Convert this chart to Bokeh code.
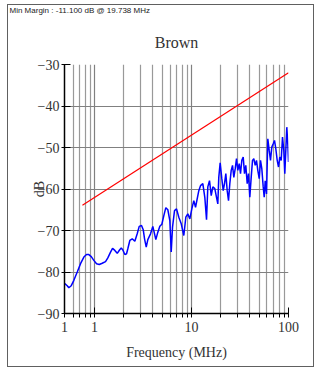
from bokeh.plotting import figure
from bokeh.models import FixedTicker, Range1d, Title
from bokeh.embed import file_html
from bokeh.resources import INLINE

# measured trace (MHz, dB)
freq = [0.494, 0.523, 0.543, 0.575, 0.612, 0.663, 0.717, 0.776, 0.827, 0.873,
        0.925, 0.983, 1.049, 1.118, 1.200, 1.298, 1.371, 1.462, 1.533, 1.619,
        1.714, 1.810, 1.885, 1.958, 2.053, 2.138, 2.204, 2.311, 2.447, 2.603,
        2.754, 2.889, 3.051, 3.177, 3.278, 3.412, 3.544, 3.779, 3.990, 4.155,
        4.285, 4.494, 4.713, 4.942, 5.182, 5.433, 5.699, 5.975, 6.176, 6.368,
        6.678, 7.005, 7.396, 7.831, 8.328, 8.735, 9.160, 9.605, 10.07, 10.56,
        11.00, 11.89, 12.38, 13.08, 13.71, 14.28, 14.72, 15.33, 15.97, 16.59,
        17.39, 18.10, 18.67, 19.10, 19.74, 20.53, 21.22, 21.89, 22.58, 23.33,
        24.07, 24.82, 25.66, 26.47, 27.30, 28.22, 29.10, 30.02, 31.03, 32.00,
        33.01, 34.12, 35.19, 36.28, 37.51, 38.69, 39.90, 41.25, 42.55, 43.88,
        45.36, 46.78, 48.25, 49.89, 51.45, 53.06, 54.85, 56.17, 57.52, 59.32,
        61.19, 63.24, 65.22, 67.27, 69.55, 71.74, 73.99, 76.48, 78.88, 81.35,
        84.09, 86.73, 89.44, 91.60, 93.80, 96.05, 98.35, 100.0]
level = [-82.8, -83.3, -83.8, -83.3, -82.0, -80.0, -78.0, -76.4, -75.8, -75.8,
         -76.3, -77.2, -78.0, -78.2, -77.9, -77.5, -76.6, -75.2, -74.3, -74.8,
         -75.5, -74.7, -74.2, -74.7, -75.8, -75.6, -74.4, -72.4, -72.0, -72.6,
         -70.8, -69.0, -68.8, -69.8, -72.0, -74.0, -72.2, -70.8, -69.0, -70.8,
         -72.2, -70.4, -69.0, -68.5, -66.4, -64.5, -65.0, -67.6, -75.2, -69.2,
         -65.2, -64.8, -66.8, -68.4, -71.2, -66.8, -66.0, -67.2, -64.8, -62.8,
         -64.4, -60.4, -59.2, -58.7, -62.0, -67.4, -59.5, -58.0, -61.6, -59.5,
         -59.9, -62.0, -63.6, -57.2, -53.7, -57.5, -60.4, -58.7, -56.3, -60.4,
         -62.8, -58.7, -55.5, -54.3, -57.2, -55.1, -52.7, -55.5, -53.9, -56.3,
         -53.1, -52.3, -56.3, -54.3, -58.7, -56.3, -62.0, -57.2, -53.1, -52.7,
         -54.3, -53.1, -55.5, -57.5, -53.1, -55.1, -59.5, -62.0, -58.0, -61.2,
         -47.9, -50.7, -53.1, -49.9, -49.1, -48.3, -50.3, -53.1, -54.7, -52.3,
         -53.1, -47.5, -50.7, -56.3, -50.7, -45.1, -49.1, -53.5]

limit_freq = [0.75, 100.0]
limit_db = [-63.9, -32.0]

x_major = [0.49, 1, 10, 100]
x_labels = {0.49: "1", 1: "1", 10: "10", 100: "100"}
x_minor = [0.6, 0.7, 0.8, 0.9, 2, 3, 4, 5, 6, 7, 8, 9,
           20, 30, 40, 50, 60, 70, 80, 90]
y_ticks = [-90, -80, -70, -60, -50, -40, -30]

title_text = "Brown"
margin_text = "Min Margin : -11.100 dB @ 19.738 MHz"

SERIF = "Liberation Serif"
EDGE = "#606060"

p = figure(width=307, height=367, x_axis_type="log",
           x_range=Range1d(0.49, 100), y_range=Range1d(-90, -30),
           output_backend="svg", toolbar_location=None,
           min_border_left=57, min_border_right=26,
           min_border_top=64, min_border_bottom=54)
p.styles = {
    "margin-left": "7px",
    "box-shadow": (f"inset 0 4px 0 0 #ffffff, inset 0 5px 0 0 {EDGE}, "
                   f"inset 1px 0 0 0 {EDGE}, inset 0 -1px 0 0 {EDGE}, "
                   f"inset -1px 0 0 0 {EDGE}"),
}
p.border_fill_color = None
p.background_fill_color = "white"
p.outline_line_color = None

p.title.text = margin_text
p.title.align = "left"
p.title.offset = -55
p.title.standoff = 6
p.title.text_font = "Liberation Sans"
p.title.text_font_size = "8px"
p.title.text_font_style = "normal"
p.title.text_color = "#222222"

p.add_layout(Title(text=title_text, align="center", text_font=SERIF,
                   text_font_size="16px", text_font_style="normal",
                   text_color="#333333", standoff=28), "above")

xt = FixedTicker(ticks=x_major, minor_ticks=x_minor)
p.xaxis.ticker = xt
p.xgrid.ticker = xt
p.xaxis.major_label_overrides = x_labels
yt = FixedTicker(ticks=y_ticks)
p.yaxis.ticker = yt
p.ygrid.ticker = yt

for ax in (p.xaxis[0], p.yaxis[0]):
    ax.axis_line_color = "black"
    ax.axis_line_width = 1.5
    ax.major_tick_line_color = "black"
    ax.minor_tick_line_color = "black"
    ax.major_label_text_font = SERIF
    ax.major_label_text_font_size = "14px"
    ax.major_label_text_color = "#333333"
    ax.axis_label_text_font = SERIF
    ax.axis_label_text_font_size = "14px"
    ax.axis_label_text_font_style = "normal"
    ax.axis_label_text_color = "#333333"

p.xaxis.axis_label = "Frequency (MHz)"
p.xaxis.major_tick_in = 6
p.xaxis.major_tick_out = 4
p.xaxis.minor_tick_in = 0
p.xaxis.minor_tick_out = 4
p.xaxis.major_label_standoff = 4
p.xaxis.axis_label_standoff = 10

p.yaxis.axis_label = "dB"
p.yaxis.major_tick_in = 6
p.yaxis.major_tick_out = 3
p.yaxis.minor_tick_line_color = None
p.yaxis.major_label_standoff = 2
p.yaxis.axis_label_standoff = -12

p.xgrid.grid_line_color = "#808080"
p.xgrid.grid_line_width = 1.2
p.xgrid.minor_grid_line_color = "#999999"
p.xgrid.minor_grid_line_width = 1.2
p.ygrid.grid_line_color = "#808080"
p.ygrid.grid_line_width = 1.2

p.line(limit_freq, limit_db, line_color="#ff0000", line_width=1.2)
p.line(freq, level, line_color="#0000ff", line_width=1.5)

open("out.html", "w").write(file_html(p, INLINE))
